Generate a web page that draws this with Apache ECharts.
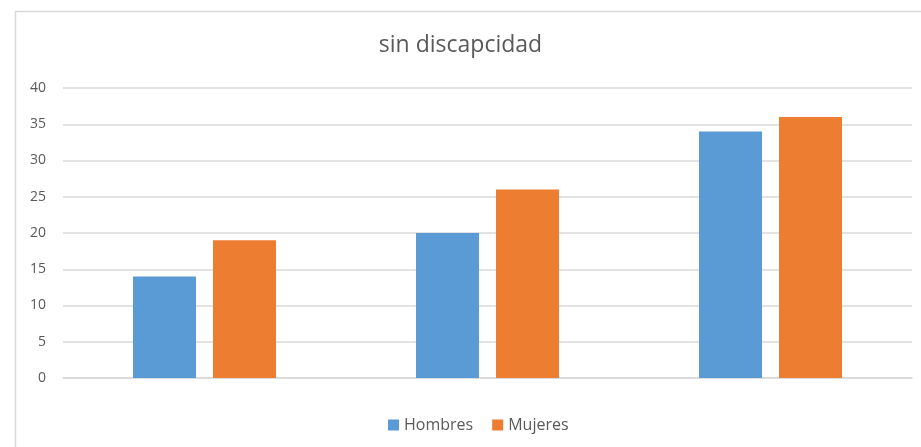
<!DOCTYPE html>
<html>
<head>
<meta charset="utf-8">
<script src="https://cdn.jsdelivr.net/npm/echarts@6/dist/echarts.min.js"></script>
<style>
  html, body { margin: 0; padding: 0; background: #fff; }
  #chart { width: 921px; height: 447px; }
</style>
</head>
<body>
<div id="chart"></div>
<script>
let categories = ['A', 'B', 'C'];
let hombres = [14, 20, 34];
let mujeres = [19, 26, 36];
let seriesNames = ['Hombres', 'Mujeres'];

let chart = echarts.init(document.getElementById('chart'));
let font = 'Open Sans, Noto Sans, sans-serif';

let option = {
  animation: false,
  textStyle: { fontFamily: font },
  graphic: [{
    type: 'rect',
    left: 13,
    top: 9,
    shape: { width: 940, height: 460 },
    style: { fill: 'none', stroke: '#D9D9D9', lineWidth: 1.5 },
    silent: true
  }],
  title: {
    text: 'sin discapcidad',
    left: 'center',
    top: 29,
    textStyle: { fontSize: 23, fontWeight: 'normal', color: '#595959', fontFamily: font }
  },
  legend: {
    data: seriesNames,
    top: 412,
    left: 383,
    itemWidth: 11,
    itemHeight: 11,
    itemGap: 19,
    icon: 'rect',
    textStyle: { fontSize: 16, color: '#595959', fontFamily: font }
  },
  grid: { left: 63, right: 9, top: 88, bottom: 69 },
  xAxis: {
    type: 'category',
    data: categories,
    axisLine: { lineStyle: { color: '#D9D9D9', width: 1.5 } },
    axisTick: { show: false },
    axisLabel: { show: false }
  },
  yAxis: {
    type: 'value',
    min: 0,
    max: 40,
    interval: 5,
    axisLine: { show: false },
    axisTick: { show: false },
    axisLabel: { fontSize: 14, color: '#595959', margin: 17, fontFamily: font },
    splitLine: { lineStyle: { color: '#D9D9D9', width: 1.5 } }
  },
  series: [
    {
      name: seriesNames[0],
      type: 'bar',
      data: hombres,
      barWidth: 63,
      barGap: '27%',
      itemStyle: { color: '#5B9BD5' }
    },
    {
      name: seriesNames[1],
      type: 'bar',
      data: mujeres,
      barWidth: 63,
      barGap: '27%',
      itemStyle: { color: '#ED7D31' }
    }
  ]
};

chart.setOption(option);
</script>
</body>
</html>
